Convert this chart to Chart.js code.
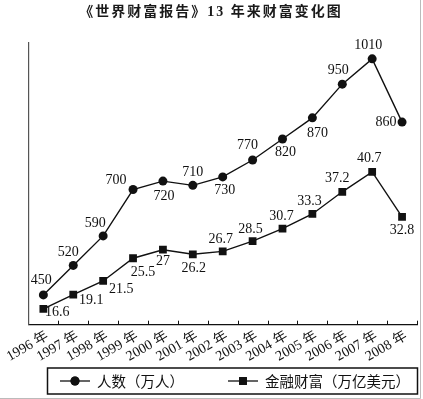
<!DOCTYPE html>
<html>
<head>
<meta charset="utf-8">
<script src="https://cdn.jsdelivr.net/npm/chart.js@4/dist/chart.umd.min.js"></script>
<style>
    html, body { margin: 0; padding: 0; background: #fff; }
    #wrap { width: 423px; height: 399px; }
</style>
</head>
<body>
<div id="wrap"><canvas id="wealthChart" width="423" height="399"></canvas></div>
<script>
// data
const years = ["1996 年", "1997 年", "1998 年", "1999 年", "2000 年", "2001 年", "2002 年",
    "2003 年", "2004 年", "2005 年", "2006 年", "2007 年", "2008 年"];
const people = [450, 520, 590, 700, 720, 710, 730, 770, 820, 870, 950, 1010, 860];
const wealth = [16.6, 19.1, 21.5, 25.5, 27, 26.2, 26.7, 28.5, 30.7, 33.3, 37.2, 40.7, 32.8];
const peopleLabel = "人数（万人）";
const wealthLabel = "金融财富（万亿美元）";
const titleText = "《世界财富报告》13 年来财富变化图";

// where each value label sits relative to its point [dx, dy]
const peopleLabelPos = [[-2, -15], [-5, -13], [-8, -13], [-17, -9], [1, 15], [0, -13], [2, 13],
    [-5, -15], [3, 13], [5, 15], [-4, -14], [-4, -14], [-16, 0]];
const wealthLabelPos = [[14, 4], [18, 6], [18, 8], [10, 14], [0, 12], [1, 14], [-2, -12],
    [-2, -12], [-1, -12], [-3, -13], [-5, -13], [-3, -14], [0, 14]];

const serif = "'Liberation Serif', 'Noto Sans CJK SC', serif";
const cjk = "'Noto Sans CJK SC', sans-serif";

const extrasPlugin = {
    id: "extras",
    beforeDraw(chart) {
        const ctx = chart.ctx;
        ctx.save();
        // light frame on the right and bottom of the picture
        ctx.strokeStyle = "#bbb";
        ctx.lineWidth = 1;
        ctx.beginPath();
        ctx.moveTo(420.5, 0);
        ctx.lineTo(420.5, 398.5);
        ctx.lineTo(0, 398.5);
        ctx.stroke();

        // title, spaced out like the print
        ctx.fillStyle = "#1a1a1a";
        ctx.font = "bold 14px " + serif;
        ctx.letterSpacing = "2px";
        ctx.textAlign = "center";
        ctx.textBaseline = "middle";
        ctx.fillText(titleText, 211, 12);
        ctx.restore();
    },
    afterDatasetsDraw(chart) {
        const ctx = chart.ctx;
        const x = chart.scales.x;
        const area = chart.chartArea;
        ctx.save();

        // inward tick marks between the years
        ctx.strokeStyle = "#111";
        ctx.lineWidth = 1;
        const half = (x.getPixelForValue(1) - x.getPixelForValue(0)) / 2;
        ctx.beginPath();
        for (let i = 0; i < years.length; i++) {
            const px = Math.round(x.getPixelForValue(i) + half) + 0.5;
            ctx.moveTo(px, area.bottom);
            ctx.lineTo(px, area.bottom - 4);
        }
        ctx.stroke();

        // value labels
        ctx.fillStyle = "#111";
        ctx.font = "14px " + serif;
        ctx.textAlign = "center";
        ctx.textBaseline = "middle";
        const positions = [peopleLabelPos, wealthLabelPos];
        chart.data.datasets.forEach((ds, d) => {
            const meta = chart.getDatasetMeta(d);
            meta.data.forEach((pt, i) => {
                const off = positions[d][i];
                ctx.fillText(String(ds.data[i]), pt.x + off[0], pt.y + off[1]);
            });
        });

        // legend box with line + marker samples
        const top = 368, bottom = 394, left = 47.5, right = 417.5;
        ctx.strokeStyle = "#111";
        ctx.lineWidth = 1.5;
        ctx.strokeRect(left, top, right - left, bottom - top);
        const cy = (top + bottom) / 2;
        const items = [
            { x: 60, style: "circle", r: 4.5, text: peopleLabel },
            { x: 228, style: "rect", r: 5.5, text: wealthLabel }
        ];
        ctx.font = "14.5px " + cjk;
        ctx.textAlign = "left";
        items.forEach(it => {
            ctx.lineWidth = 1.3;
            ctx.beginPath();
            ctx.moveTo(it.x, cy);
            ctx.lineTo(it.x + 30, cy);
            ctx.stroke();
            Chart.helpers.drawPoint(ctx, { pointStyle: it.style, radius: it.r, borderWidth: 0 }, it.x + 15, cy);
            ctx.fill();
            ctx.fillText(it.text, it.x + 37, cy);
        });
        ctx.restore();
    }
};

const ctx = document.getElementById("wealthChart").getContext("2d");
new Chart(ctx, {
    type: "line",
    data: {
        labels: years,
        datasets: [{
            label: peopleLabel,
            data: people,
            yAxisID: "yp",
            borderColor: "#111",
            backgroundColor: "#111",
            borderWidth: 1.4,
            pointStyle: "circle",
            pointRadius: 4.5,
            pointBorderWidth: 0,
            tension: 0
        }, {
            label: wealthLabel,
            data: wealth,
            yAxisID: "yw",
            borderColor: "#111",
            backgroundColor: "#111",
            borderWidth: 1.4,
            pointStyle: "rect",
            pointRadius: 5.5,
            pointBorderWidth: 0,
            tension: 0
        }]
    },
    options: {
        responsive: false,
        animation: false,
        layout: { padding: { left: 25, right: 6, top: 43, bottom: 31 } },
        plugins: {
            legend: { display: false },
            tooltip: { enabled: false },
            title: { display: false }
        },
        scales: {
            x: {
                offset: true,
                grid: { display: false, drawTicks: false },
                border: { display: true, color: "#111", width: 1.2 },
                ticks: {
                    color: "#111",
                    font: { family: serif, size: 14 },
                    minRotation: 30,
                    maxRotation: 30,
                    autoSkip: false,
                    labelOffset: 4,
                    padding: 3
                }
            },
            yp: {
                position: "left",
                min: 379.4,
                max: 1047.6,
                grid: { display: false, drawTicks: false },
                border: { display: true, color: "#555", width: 1.2 },
                ticks: { display: false }
            },
            yw: {
                position: "right",
                display: false,
                min: 13.8,
                max: 63.4
            }
        }
    },
    plugins: [extrasPlugin]
});
</script>
</body>
</html>
